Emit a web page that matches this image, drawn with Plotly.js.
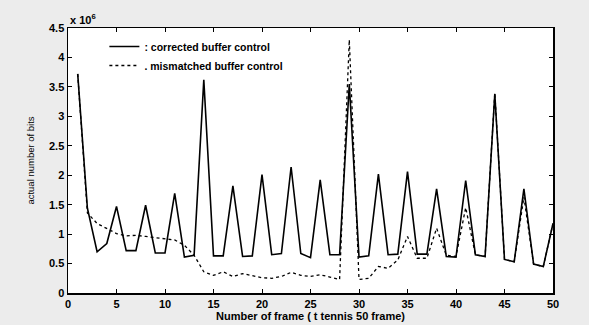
<!DOCTYPE html>
<html><head><meta charset="utf-8">
<script src="https://cdn.plot.ly/plotly-3.0.1.min.js"></script>
<style>html,body{margin:0;padding:0;background:#ececec}</style>
</head><body>
<div id="chart" style="width:589px;height:325px"></div>
<script>
const frames = Array.from({length: 50}, (_, i) => i + 1);
const corrected = [3.72, 1.44, 0.70, 0.84, 1.47, 0.72, 0.72, 1.49, 0.68, 0.68,
  1.69, 0.61, 0.64, 3.62, 0.63, 0.63, 1.82, 0.62, 0.63, 2.01,
  0.65, 0.67, 2.14, 0.67, 0.60, 1.92, 0.65, 0.65, 3.55, 0.61,
  0.63, 2.02, 0.65, 0.66, 2.06, 0.66, 0.66, 1.77, 0.62, 0.61,
  1.91, 0.65, 0.62, 3.38, 0.57, 0.53, 1.77, 0.49, 0.45, 1.18];
const mismatched = [3.72, 1.36, 1.18, 1.10, 1.01, 0.97, 0.98, 0.96, 0.94, 0.93,
  0.90, 0.81, 0.64, 0.36, 0.30, 0.36, 0.28, 0.33, 0.29, 0.26,
  0.25, 0.28, 0.35, 0.30, 0.28, 0.31, 0.27, 0.23, 4.30, 0.23,
  0.25, 0.45, 0.42, 0.56, 0.96, 0.59, 0.59, 1.10, 0.64, 0.62,
  1.45, 0.65, 0.62, 3.40, 0.57, 0.53, 1.63, 0.49, 0.45, 1.18];
const xTicks = [0, 5, 10, 15, 20, 25, 30, 35, 40, 45, 50];
const yTicks = [0, 0.5, 1, 1.5, 2, 2.5, 3, 3.5, 4, 4.5];

const fam = 'Liberation Sans, Arial, sans-serif';
const tickFont = {family: fam, size: 11, color: '#000', weight: 'bold'};
const traces = [
  {x: frames, y: corrected, mode: 'lines', name: ': corrected buffer control',
   line: {color: '#000', width: 1.6}},
  {x: frames, y: mismatched, mode: 'lines', name: '. mismatched buffer control',
   line: {color: '#000', width: 1.3, dash: 'dot'}}
];
const axisCommon = {showgrid: false, zeroline: false, showline: true, mirror: 'ticks',
  linecolor: '#000', linewidth: 1.5, ticks: 'inside', ticklen: 4, tickcolor: '#000',
  tickfont: tickFont};
const layout = {
  width: 589, height: 325,
  paper_bgcolor: '#ececec', plot_bgcolor: '#fff',
  margin: {l: 68, r: 36, t: 28, b: 32},
  showlegend: true,
  legend: {x: 0.075, y: 0.985, xanchor: 'left', yanchor: 'top', bgcolor: 'rgba(0,0,0,0)',
    font: {family: fam, size: 10.5, color: '#000', weight: 'bold'},
    tracegroupgap: 0, itemwidth: 30},
  xaxis: Object.assign({}, axisCommon, {range: [0, 50], tickvals: xTicks,
    ticktext: xTicks.map(String),
    title: {text: 'Number of frame ( t tennis 50 frame)', standoff: 2,
      font: {family: fam, size: 11, color: '#000', weight: 'bold'}}}),
  yaxis: Object.assign({}, axisCommon, {range: [0, 4.5], tickvals: yTicks,
    ticktext: yTicks.map(String),
    title: {text: 'actual number of bits', standoff: 12,
      font: {family: fam, size: 9.5, color: '#000'}}}),
  annotations: [{xref: 'paper', yref: 'paper', x: 0, y: 1, xanchor: 'left', yanchor: 'bottom',
    text: 'x 10<sup>6</sup>', showarrow: false,
    font: {family: fam, size: 11, color: '#000', weight: 'bold'}}]
};
Plotly.newPlot('chart', traces, layout, {displayModeBar: false, staticPlot: true});
</script>
</body></html>
